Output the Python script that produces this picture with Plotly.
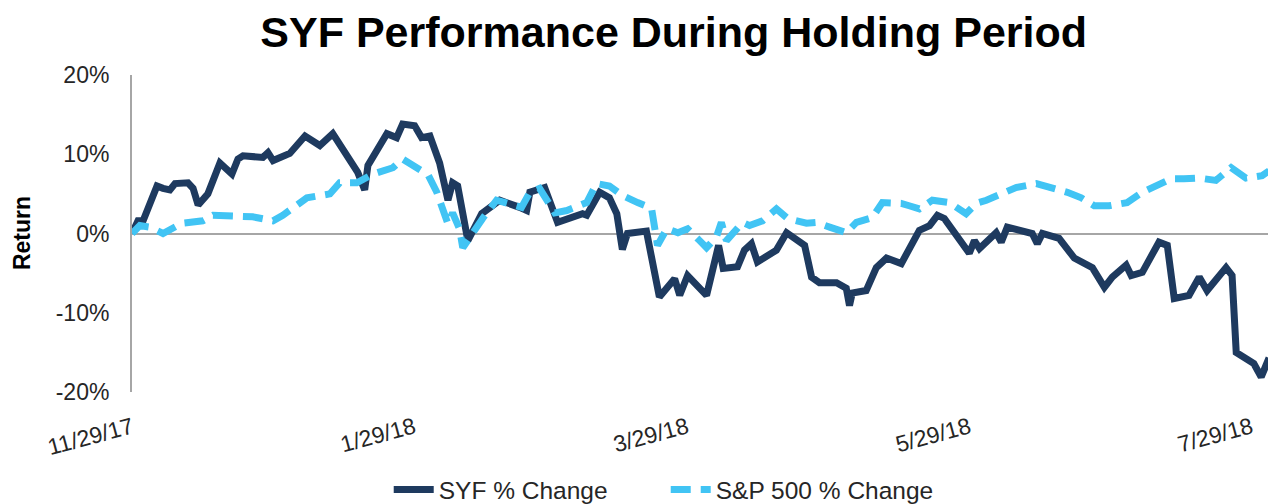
import pandas as pd
import plotly.graph_objects as go

start_date = "2017-11-29"

# SYF % change: (days after start, return %)
syf_days = [0, 1.3, 2.4, 5.4, 6.7, 8.2, 9.3, 12.1, 13.2, 14.3, 16.4, 19.0, 21.6, 22.9, 24.0,
            28.3, 29.4, 30.5, 34.1, 37.4, 40.6, 43.4, 48.8, 50.3, 51.0, 55.1, 57.2, 58.5,
            61.1, 62.6, 64.4, 66.5, 68.3, 69.3, 70.4, 72.6, 75.6, 77.8, 79.5, 83.8, 85.3,
            86.0, 89.2, 92.0, 95.2, 97.4, 98.3, 101.1, 103.2, 104.8, 106.0, 107.1, 111.2,
            114.0, 117.3, 118.4, 120.1, 124.2, 126.8, 127.8, 130.9, 132.4, 133.9, 135.2,
            139.3, 141.5, 145.4, 146.9, 148.6, 152.3, 154.4, 155.1, 155.7, 158.7, 160.9,
            163.1, 166.3, 170.2, 172.4, 174.1, 175.6, 181.0, 182.1, 183.2, 186.8, 187.9,
            189.2, 194.6, 195.7, 196.8, 200.4, 203.7, 207.6, 210.2, 211.9, 214.9, 216.0,
            218.4, 222.0, 223.8, 225.3, 228.5, 230.7, 232.4, 236.5, 237.8, 238.7, 242.5,
            244.1, 245.8]
syf_pct = [0.0, 1.6, 1.6, 6.0, 5.7, 5.5, 6.3, 6.4, 5.7, 3.6, 5.0, 8.9, 7.5, 9.4, 9.8,
           9.6, 10.2, 9.2, 10.1, 12.3, 11.1, 12.6, 7.7, 5.5, 8.6, 12.6, 12.1, 13.8,
           13.6, 12.1, 12.3, 8.9, 4.2, 6.4, 6.0, -0.9, 2.5, 3.4, 4.2, 3.3, 2.9,
           5.2, 5.8, 1.4, 2.0, 2.5, 2.3, 5.2, 4.5, 2.5, -2.0, 0.0, 0.3,
           -8.0, -5.7, -7.8, -5.3, -7.8, -1.5, -4.4, -4.2, -2.1, -1.3, -3.6,
           -2.1, 0.1, -1.5, -5.5, -6.2, -6.2, -6.9, -9.1, -7.5, -7.2, -4.3,
           -3.1, -3.8, 0.4, 1.0, 2.3, 1.9, -2.5, -0.9, -1.9, 0.1, -1.1,
           0.8, 0.0, -1.3, 0.0, -0.6, -3.1, -4.3, -6.8, -5.5, -4.0, -5.3,
           -4.9, -1.1, -1.5, -8.2, -7.8, -5.5, -7.2, -4.3, -5.3, -15.0, -16.4,
           -18.1, -15.7]

# S&P 500 % change: (days after start, return %)
spx_days = [0, 1.7, 3.9, 6.7, 10.8, 15.3, 17.5, 22.7, 26.1, 30.5, 32.6, 37.8, 42.8, 44.9,
            48.6, 52.1, 56.4, 58.5, 61.6, 64.0, 65.9, 67.2, 68.3, 69.3, 70.8, 71.5, 73.0,
            75.8, 78.8, 84.2, 86.0, 88.1, 91.4, 94.0, 98.3, 100.4, 103.2, 106.0, 109.3,
            112.3, 113.6, 115.6, 118.0, 120.1, 122.7, 124.2, 126.3, 127.4, 128.5, 132.0,
            133.5, 136.3, 139.3, 141.7, 145.8, 147.9, 150.8, 154.4, 156.6, 160.0, 162.2,
            166.3, 168.0, 170.2, 173.0, 176.7, 180.3, 182.5, 184.7, 188.1, 191.1, 195.5,
            198.7, 202.2, 205.2, 208.0, 211.2, 215.1, 218.4, 221.4, 224.6, 227.4, 230.7,
            234.3, 237.6, 240.8, 244.3, 245.8]
spx_pct = [0.0, 1.0, 0.8, 0.0, 1.3, 1.6, 2.3, 2.3, 2.1, 1.6, 2.3, 4.5, 5.0, 6.4,
           6.4, 7.5, 8.3, 9.4, 8.3, 7.4, 5.2, 2.7, 1.2, 2.6, 0.6, -1.8, -0.4,
           1.9, 4.2, 3.3, 5.2, 5.7, 2.6, 2.9, 3.9, 6.3, 6.0, 4.8, 3.9,
           3.2, -1.5, 0.6, 0.1, 0.6, -0.9, -1.8, -0.5, 1.4, -0.9, 1.4,
           1.0, 1.6, 3.1, 1.9, 1.3, 1.4, 0.8, 0.1, 1.4, 2.0, 3.9,
           3.8, 3.5, 3.1, 4.2, 3.9, 2.5, 3.8, 4.2, 5.0, 5.8, 6.3,
           5.8, 5.2, 4.5, 3.5, 3.5, 3.9, 5.2, 6.0, 6.9, 6.9, 7.0,
           6.7, 8.3, 7.0, 7.3, 7.9]

tick_dates = ["2017-11-29", "2018-01-29", "2018-03-29", "2018-05-29", "2018-07-29"]
tick_text = ["11/29/17", "1/29/18", "3/29/18", "5/29/18", "7/29/18"]
y_ticks = [-20, -10, 0, 10, 20]
y_tick_text = ["-20%", "-10%", "0%", "10%", "20%"]

t0 = pd.Timestamp(start_date)
syf_x = [t0 + pd.Timedelta(days=d) for d in syf_days]
spx_x = [t0 + pd.Timedelta(days=d) for d in spx_days]

fig = go.Figure()
fig.add_trace(go.Scatter(x=syf_x, y=syf_pct, mode="lines", name="SYF % Change",
                         line=dict(color="#1E3A5F", width=7)))
fig.add_trace(go.Scatter(x=spx_x, y=spx_pct, mode="lines", name="S&P 500 % Change",
                         line=dict(color="#41C4F4", width=7, dash="20px,10px")))

fig.update_layout(
    width=1268, height=496,
    margin=dict(l=124, r=6, t=67, b=112, autoexpand=False),
    paper_bgcolor="white", plot_bgcolor="white",
    font=dict(family="Liberation Sans, Arial, sans-serif", color="#262626"),
    title=dict(text="<b>SYF Performance During Holding Period</b>",
               x=0.525, xanchor="center", y=0.952, yanchor="middle",
               font=dict(size=43, color="black")),
    showlegend=True,
    legend=dict(orientation="h", x=0.469, xanchor="center", y=-0.237, yanchor="top",
                font=dict(size=24.5, color="#262626"), itemwidth=40, entrywidth=222,
                traceorder="normal"),
    annotations=[dict(text="<b>Return</b>", textangle=-90, xref="paper", yref="paper",
                      x=-0.097, y=0.5, xanchor="center", yanchor="middle",
                      showarrow=False, font=dict(size=23, color="black"))],
)
fig.update_xaxes(
    type="date", range=[t0, t0 + pd.Timedelta(days=246)],
    tickvals=tick_dates, ticktext=tick_text, tickangle=-15,
    tickfont=dict(size=23, color="#262626"), automargin=False,
    showgrid=False, zeroline=False, showline=False, ticks="", ticklabelstandoff=17,
)
fig.update_yaxes(
    range=[-20, 20], tickvals=y_ticks, ticktext=y_tick_text,
    tickfont=dict(size=23, color="#262626"), automargin=False,
    showgrid=False, zeroline=True, zerolinecolor="#A6A6A6", zerolinewidth=2,
    showline=True, linecolor="#A6A6A6", linewidth=2, ticks="", ticklabelstandoff=16,
)

fig.write_html("out.html")
